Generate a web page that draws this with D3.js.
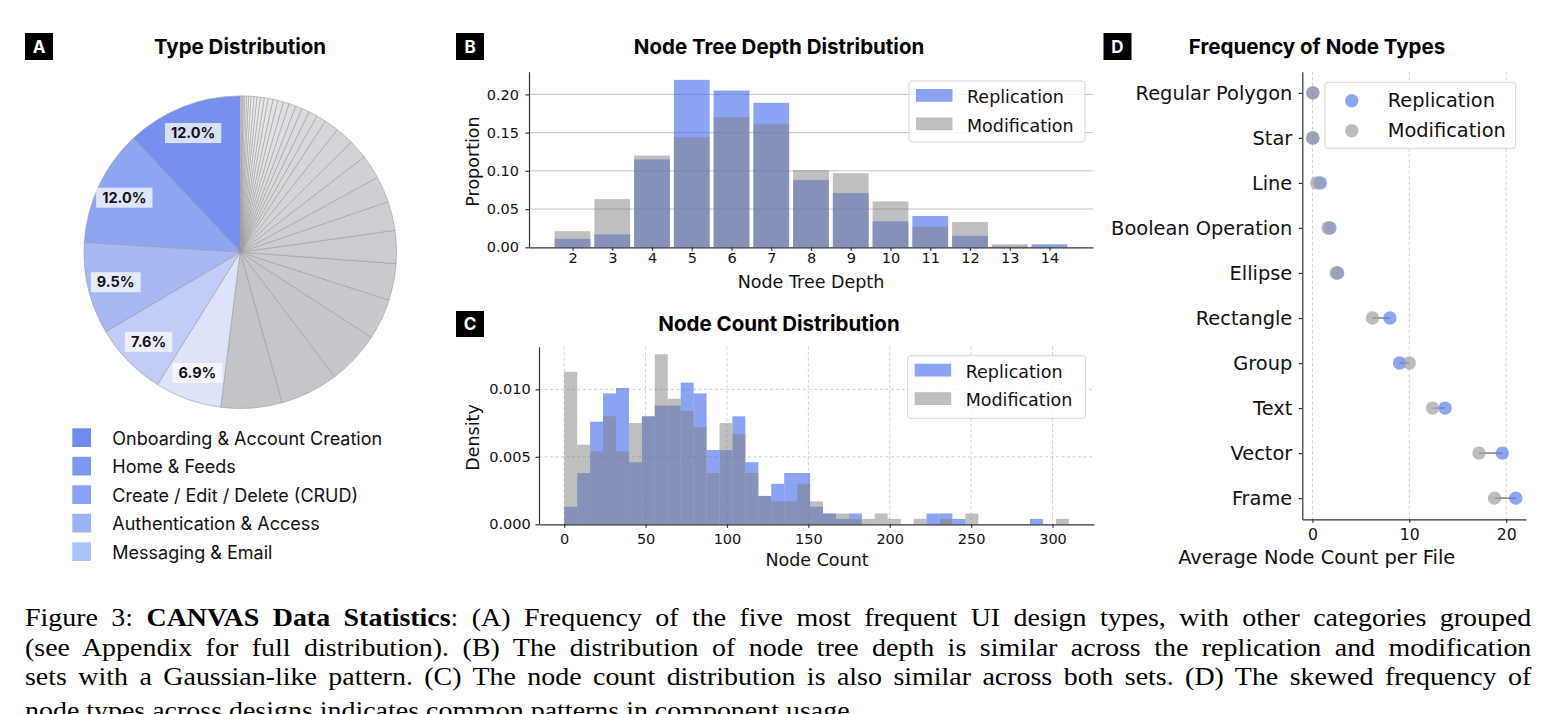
<!DOCTYPE html>
<html>
<head>
<meta charset="utf-8">
<script src="https://cdn.jsdelivr.net/npm/d3@7"></script>
<style>
body { margin: 0; background: #fff; }
svg text { font-family: "DejaVu Sans", sans-serif; fill: #111; }
.title { font-family: Inter, sans-serif; font-weight: 700; font-size: 20.5px; fill: #000; }
.letter { font-family: Inter, sans-serif; font-weight: 700; font-size: 17px; fill: #fff; }
.axis path, .axis line { stroke: #333; stroke-width: 1.2; }
.axis text { fill: #111; }
.cap { font-family: "Liberation Serif", "Times New Roman", serif; font-size: 25px; fill: #000; }
</style>
</head>
<body>
<svg id="fig" width="1558" height="714"></svg>
<script>
// ---- data ----
var typeNames = ["Onboarding & Account Creation", "Home & Feeds", "Create / Edit / Delete (CRUD)",
    "Authentication & Access", "Messaging & Email"];
var typeShares = [12.0, 12.0, 9.5, 7.6, 6.9];
var otherShares = [6.3, 6.0, 5.5, 4.2, 3.8, 3.4, 3.0, 2.7, 2.5, 2.0, 1.9, 1.5, 1.0, 0.9, 0.8, 0.7, 0.7,
    0.6, 0.6, 0.5, 0.5, 0.4, 0.4, 0.35, 0.3, 0.3, 0.25, 0.2, 0.2, 0.15, 0.1, 0.1, 0.1];

var depthLevels = [2, 3, 4, 5, 6, 7, 8, 9, 10, 11, 12, 13, 14];
var depthReplication = [0.011, 0.017, 0.115, 0.219, 0.205, 0.189, 0.088, 0.071, 0.034, 0.041, 0.015, 0.001, 0.004];
var depthModification = [0.021, 0.063, 0.120, 0.144, 0.170, 0.161, 0.101, 0.097, 0.060, 0.027, 0.033, 0.004, 0.001];

var countBinSize = 7.95;
var countReplication = [0.0013, 0.0038, 0.0076, 0.0097, 0.0101, 0.0046, 0.0080, 0.0088, 0.0088, 0.0105,
    0.0097, 0.0055, 0.0055, 0.0080, 0.0046, 0.0021, 0.0030, 0.0038, 0.0038, 0.0013,
    0.0008, 0.0004, 0.0008, 0, 0, 0, 0, 0, 0.0008, 0.0008,
    0.0004, 0, 0, 0, 0, 0, 0.0004, 0, 0];
var countModification = [0.0113, 0.0059, 0.0054, 0.0080, 0.0054, 0.0075, 0.0080, 0.0126, 0.0093, 0.0084,
    0.0072, 0.0038, 0.0075, 0.0067, 0.0038, 0.0021, 0.0017, 0.0017, 0.0030, 0.0017,
    0.0008, 0.0008, 0.0004, 0.0004, 0.0008, 0.0004, 0, 0.0004, 0, 0.0004,
    0, 0.0008, 0, 0, 0, 0, 0, 0, 0.0004];

var nodeTypes = ["Regular Polygon", "Star", "Line", "Boolean Operation", "Ellipse",
    "Rectangle", "Group", "Text", "Vector", "Frame"];
var typeReplication = [0.05, 0.05, 0.8, 1.8, 2.6, 8.0, 9.0, 13.7, 19.6, 21.0];
var typeModification = [0.02, 0.02, 0.45, 1.6, 2.45, 6.2, 10.0, 12.4, 17.2, 18.8];

var captionLines = [
    ["Figure 3: ", "CANVAS Data Statistics", ": (A) Frequency of the five most frequent UI design types, with other categories grouped"],
    ["(see Appendix for full distribution). (B) The distribution of node tree depth is similar across the replication and modification"],
    ["sets with a Gaussian-like pattern. (C) The node count distribution is also similar across both sets. (D) The skewed frequency of"],
    ["node types across designs indicates common patterns in component usage."]
];

// ---- styling ----
var pieBlues = ["#7590ee", "#8ea5f1", "#a7b8f3", "#c1cdf7", "#dde3f9"];
var legendBlues = ["#6f8bf0", "#7d97f2", "#8aa3f4", "#9ab3f7", "#aac4fa"];
var repColor = "#3e66eb", repAlpha = 0.6;
var modColor = "#808080", modAlpha = 0.5;

var svg = d3.select("#fig");
svg.append("rect").attr("width", 1558).attr("height", 714).attr("fill", "#fff");

function panelLetter(x, y, h, s) {
    svg.append("rect").attr("x", x).attr("y", y).attr("width", 28).attr("height", h).attr("fill", "#000");
    svg.append("text").attr("class", "letter").attr("x", x + 14).attr("y", y + h / 2 + 6)
        .attr("text-anchor", "middle").text(s);
}
function title(x, y, s) {
    svg.append("text").attr("class", "title").attr("x", x).attr("y", y).attr("text-anchor", "middle").text(s);
}

// ================= A: pie =================
panelLetter(25, 33, 27, "A");
title(240, 53.5, "Type Distribution");

var pieR = 156.3;
var pieValues = typeShares.concat(otherShares);
var arcs = d3.pie().sort(null).startAngle(0).endAngle(-2 * Math.PI)(pieValues);
var arc = d3.arc().innerRadius(0).outerRadius(pieR);
var grey = d3.interpolateRgb("#c2c4c8", "#f8f8f9");

var gPie = svg.append("g").attr("transform", "translate(240.3,252.2)");
gPie.selectAll("path")
    .data(arcs)
    .enter().append("path")
    .attr("d", arc)
    .attr("fill", function (d, i) {
        return i < typeShares.length ? pieBlues[i] : grey((i - typeShares.length) / (otherShares.length - 1));
    })
    .attr("stroke", "#9c9c9c")
    .attr("stroke-width", 0.6);

var labelArc = d3.arc().innerRadius(pieR * 0.82).outerRadius(pieR * 0.82);
arcs.slice(0, typeShares.length).forEach(function (d) {
    var c = labelArc.centroid(d);
    var g = gPie.append("g").attr("transform", "translate(" + c[0] + "," + c[1] + ")");
    var t = g.append("text")
        .attr("text-anchor", "middle").attr("dy", "0.36em")
        .style("font-family", "Inter, sans-serif").style("font-weight", 700).style("font-size", "14.5px")
        .text(d.data.toFixed(1) + "%");
    var bb = t.node().getBBox();
    g.insert("rect", "text")
        .attr("x", bb.x - 6).attr("y", -10).attr("width", bb.width + 12).attr("height", 20)
        .attr("fill", "#fff").attr("opacity", 0.72);
});

// legend A
typeNames.forEach(function (n, i) {
    var y = 428.3 + i * 28.5;
    svg.append("rect").attr("x", 72.3).attr("y", y).attr("width", 18.7).attr("height", 18.7).attr("fill", legendBlues[i]);
    svg.append("text").attr("x", 112.3).attr("y", y + 16.5)
        .style("font-family", "Inter, sans-serif").style("font-size", "18px").text(n);
});

// ================= B: depth bars =================
panelLetter(456, 33, 27, "B");
title(779, 53.5, "Node Tree Depth Distribution");

var bx = d3.scaleLinear().domain([0.905, 15.095]).range([529, 1093]);
var by = d3.scaleLinear().domain([0, 0.2297]).range([247.3, 71.7]);

svg.append("g").selectAll("line")
    .data(by.ticks(5).filter(function (v) { return v > 0; }))
    .enter().append("line")
    .attr("x1", 529).attr("x2", 1093)
    .attr("y1", function (d) { return by(d); }).attr("y2", function (d) { return by(d); })
    .attr("stroke", "#c4c4c4").attr("stroke-width", 1);

function depthBars(values, color, alpha) {
    svg.append("g").selectAll("rect")
        .data(values)
        .enter().append("rect")
        .attr("x", function (d, i) { return bx(depthLevels[i] - 0.45); })
        .attr("width", bx(1.9) - bx(1))
        .attr("y", function (d) { return by(d); })
        .attr("height", function (d) { return by(0) - by(d); })
        .attr("fill", color).attr("fill-opacity", alpha);
}
depthBars(depthReplication, repColor, repAlpha);
depthBars(depthModification, modColor, modAlpha);

var bAxisX = svg.append("g").attr("class", "axis").attr("transform", "translate(0,247.3)")
    .call(d3.axisBottom(bx).tickValues(depthLevels).tickSize(3.5).tickSizeOuter(0).tickPadding(2));
bAxisX.selectAll("text").style("font-size", "14.5px");
var bAxisY = svg.append("g").attr("class", "axis").attr("transform", "translate(529,0)")
    .call(d3.axisLeft(by).ticks(5).tickFormat(d3.format(".2f")).tickSize(3.5).tickSizeOuter(0).tickPadding(6.5));
bAxisY.selectAll("text").style("font-size", "14.5px");

svg.append("text").attr("x", 811).attr("y", 288).attr("text-anchor", "middle")
    .style("font-size", "17.5px").text("Node Tree Depth");
svg.append("text").attr("transform", "translate(479,161.5) rotate(-90)").attr("text-anchor", "middle")
    .style("font-size", "17.5px").text("Proportion");

function patchLegend(x, y, w, h, rows) {
    svg.append("rect").attr("x", x).attr("y", y).attr("width", w).attr("height", h).attr("rx", 3)
        .attr("fill", "#fff").attr("fill-opacity", 0.8).attr("stroke", "#d6d6d6");
    rows.forEach(function (r, i) {
        var py = y + 8 + i * 28.5;
        svg.append("rect").attr("x", x + 7).attr("y", py).attr("width", 36.5).attr("height", 12.8)
            .attr("fill", r.color).attr("fill-opacity", r.alpha);
        svg.append("text").attr("x", x + 58).attr("y", py + 14).style("font-size", "17.5px").text(r.name);
    });
}
patchLegend(909, 81, 176, 61, [
    { name: "Replication", color: repColor, alpha: repAlpha },
    { name: "Modification", color: modColor, alpha: modAlpha }
]);

// ================= C: node count histogram =================
panelLetter(456, 311, 26, "C");
title(779, 330.5, "Node Count Distribution");

var cx = d3.scaleLinear().domain([-15.5, 325.5]).range([539, 1094]);
var cy = d3.scaleLinear().domain([0, 0.01316]).range([524.3, 346.7]);

var cGrid = svg.append("g").attr("stroke", "#c8c8c8").attr("stroke-width", 0.9).attr("stroke-dasharray", "3,2.5");
cGrid.selectAll(".v").data(d3.range(0, 301, 50)).enter().append("line")
    .attr("x1", function (d) { return cx(d); }).attr("x2", function (d) { return cx(d); })
    .attr("y1", 346.7).attr("y2", 524.3);
cGrid.selectAll(".h").data([0.005, 0.010]).enter().append("line")
    .attr("x1", 539).attr("x2", 1094)
    .attr("y1", function (d) { return cy(d); }).attr("y2", function (d) { return cy(d); });

function histBars(values, color, alpha) {
    svg.append("g").selectAll("rect")
        .data(values)
        .enter().append("rect")
        .attr("x", function (d, i) { return cx(i * countBinSize); })
        .attr("width", cx(countBinSize) - cx(0))
        .attr("y", function (d) { return cy(d); })
        .attr("height", function (d) { return cy(0) - cy(d); })
        .attr("fill", color).attr("fill-opacity", alpha);
}
histBars(countReplication, repColor, repAlpha);
histBars(countModification, modColor, modAlpha);

var cAxisX = svg.append("g").attr("class", "axis").attr("transform", "translate(0,524.3)")
    .call(d3.axisBottom(cx).tickValues(d3.range(0, 301, 50)).tickSize(3.5).tickSizeOuter(0).tickPadding(5.5));
cAxisX.selectAll("text").style("font-size", "14.5px");
var cAxisY = svg.append("g").attr("class", "axis").attr("transform", "translate(539,0)")
    .call(d3.axisLeft(cy).tickValues([0, 0.005, 0.010]).tickFormat(d3.format(".3f")).tickSize(3.5).tickSizeOuter(0).tickPadding(4.8));
cAxisY.selectAll("text").style("font-size", "14.5px");

svg.append("text").attr("x", 817).attr("y", 566).attr("text-anchor", "middle")
    .style("font-size", "17.5px").text("Node Count");
svg.append("text").attr("transform", "translate(479,437.5) rotate(-90)").attr("text-anchor", "middle")
    .style("font-size", "17.5px").text("Density");

patchLegend(907.7, 355.7, 178, 62.6, [
    { name: "Replication", color: repColor, alpha: repAlpha },
    { name: "Modification", color: modColor, alpha: modAlpha }
]);

// ================= D: dumbbell =================
panelLetter(1103.5, 33, 27, "D");
title(1317, 53.5, "Frequency of Node Types");

var dx = d3.scaleLinear().domain([-1.05, 22.05]).range([1302.3, 1526]);
var dy = d3.scalePoint().domain(nodeTypes).range([71.7, 519.3]).padding(0.47);

svg.append("g").attr("stroke", "#c8c8c8").attr("stroke-width", 0.9).attr("stroke-dasharray", "3,2.5")
    .selectAll("line").data([0, 10, 20]).enter().append("line")
    .attr("x1", function (d) { return dx(d); }).attr("x2", function (d) { return dx(d); })
    .attr("y1", 71.7).attr("y2", 519.3);

svg.append("g").selectAll("line")
    .data(nodeTypes)
    .enter().append("line")
    .attr("x1", function (d, i) { return dx(typeModification[i]); })
    .attr("x2", function (d, i) { return dx(typeReplication[i]); })
    .attr("y1", function (d) { return dy(d); }).attr("y2", function (d) { return dy(d); })
    .attr("stroke", "#808080").attr("stroke-width", 1.5);

function dots(values, color, alpha) {
    svg.append("g").selectAll("circle")
        .data(nodeTypes)
        .enter().append("circle")
        .attr("cx", function (d, i) { return dx(values[i]); })
        .attr("cy", function (d) { return dy(d); })
        .attr("r", 6.7)
        .attr("fill", color).attr("fill-opacity", alpha);
}
dots(typeReplication, "#5b7ff0", 0.7);
dots(typeModification, "#a0a0a0", 0.7);

// legend D
svg.append("rect").attr("x", 1325).attr("y", 82.3).attr("width", 190.7).attr("height", 66).attr("rx", 3)
    .attr("fill", "#fff").attr("fill-opacity", 0.85).attr("stroke", "#d6d6d6");
[["Replication", "#5b7ff0"], ["Modification", "#a0a0a0"]].forEach(function (r, i) {
    svg.append("circle").attr("cx", 1351.7).attr("cy", 100.7 + i * 30).attr("r", 6.7)
        .attr("fill", r[1]).attr("fill-opacity", 0.7);
    svg.append("text").attr("x", 1387.7).attr("y", 107 + i * 30).style("font-size", "19.4px").text(r[0]);
});

var dAxisX = svg.append("g").attr("class", "axis").attr("transform", "translate(0,519.3)")
    .call(d3.axisBottom(dx).tickValues([0, 10, 20]).tickSize(3.5).tickSizeOuter(0).tickPadding(6));
dAxisX.selectAll("text").style("font-size", "15.7px");
var dAxisY = svg.append("g").attr("class", "axis").attr("transform", "translate(1302.3,0)")
    .call(d3.axisLeft(dy).tickSize(3.5).tickSizeOuter(0).tickPadding(6.5));
dAxisY.selectAll("text").style("font-size", "19.4px");

svg.append("text").attr("x", 1316.7).attr("y", 564).attr("text-anchor", "middle")
    .style("font-size", "19.4px").text("Average Node Count per File");

// ================= caption =================
// justified lines: stretch horizontally so the longest line nearly fits, then pad the word gaps
var capWidth = 1507;
var gCap = svg.append("g");
var capTexts = captionLines.map(function (segs, li) {
    var t = gCap.append("text").attr("class", "cap").attr("x", 0).attr("y", 626 + li * 29.7);
    segs.forEach(function (s, si) {
        t.append("tspan").style("font-weight", si % 2 === 1 ? 700 : 400).text(s);
    });
    return t;
});
var natural = capTexts.slice(0, 3).map(function (t) { return t.node().getComputedTextLength(); });
var capScale = capWidth / (d3.max(natural) + 80);
gCap.attr("transform", "translate(25,0) scale(" + capScale + ",1)");
capTexts.slice(0, 3).forEach(function (t, li) {
    var spaces = captionLines[li].join("").split(" ").length - 1;
    t.attr("word-spacing", (capWidth / capScale - natural[li]) / spaces);
});
capTexts[3].attr("y", 626 + 3 * 29.7 + 4);
</script>
</body>
</html>
